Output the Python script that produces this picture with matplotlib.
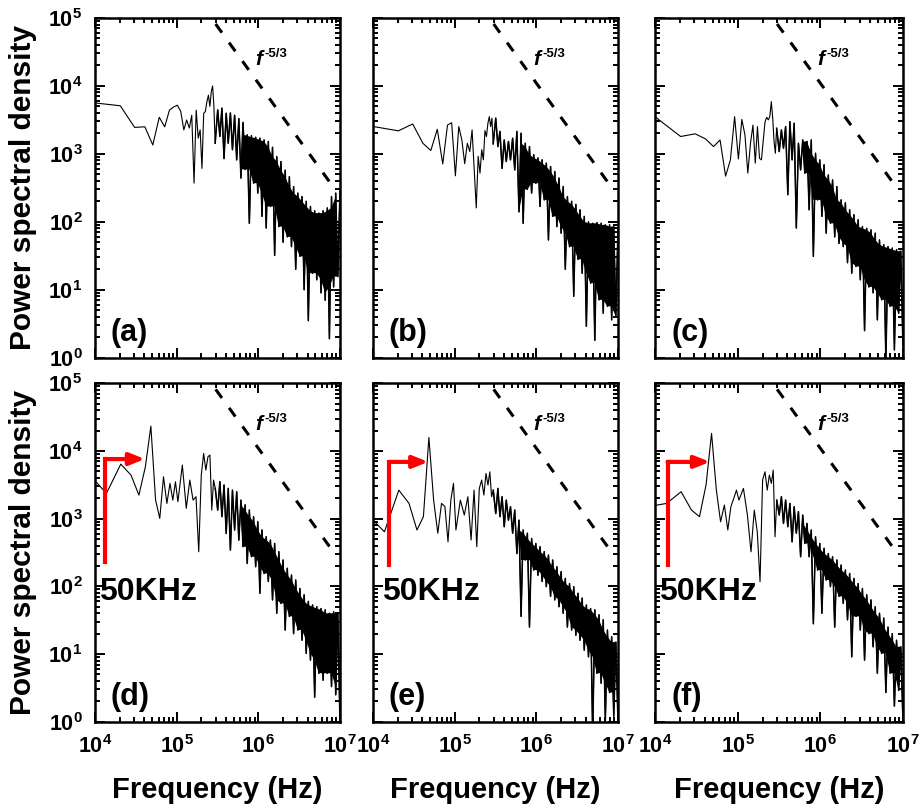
import matplotlib
matplotlib.use('Agg')
import matplotlib.pyplot as plt
import numpy as np
from matplotlib.ticker import LogLocator, FuncFormatter, NullFormatter

plt.rcParams['font.family'] = 'Liberation Sans'
plt.rcParams['font.weight'] = 'bold'
plt.rcParams['mathtext.fontset'] = 'custom'
plt.rcParams['mathtext.rm'] = 'Liberation Sans:bold'
plt.rcParams['mathtext.bf'] = 'Liberation Sans:bold'

# frequency samples (kHz): low part differs between rows, dense part is shared
freq_top_khz = [10.2, 20.4, 30.6, 40.8, 51.0, 61.2, 71.4, 81.6, 91.8, 102.0,
                112.2, 122.4, 132.6, 142.8, 153.0, 163.2, 173.4, 183.6, 193.8, 204.0,
                214.2, 224.4, 234.6, 244.8, 255.0, 265.2, 275.4, 285.6, 295.8]
freq_bottom_khz = [6.9, 13.8, 20.7, 27.6, 34.5, 41.4, 48.3, 55.2, 62.1, 69.0,
                   75.9, 82.8, 89.7, 96.6, 103.5, 117.3, 131.1, 144.9, 158.7, 172.5,
                   186.3, 200.1, 213.9, 227.7, 241.5, 255.3, 269.1, 282.9, 296.7]
freq_dense_khz = [318, 338, 358, 380, 404, 428, 455, 482, 512, 543,
                  577, 612, 649, 689, 731, 776, 823, 874, 927, 984,
                  1044, 1108, 1176, 1248, 1324, 1405, 1491, 1583, 1680, 1782,
                  1891, 2007, 2130, 2260, 2398, 2545, 2701, 2866, 3042, 3228,
                  3425, 3635, 3857, 4093, 4344, 4610, 4892, 5191, 5509, 5846,
                  6203, 6583, 6985, 7413, 7866, 8348, 8858, 9400, 9975]

# power spectral density (low part + dense part)
psd_a = [5600, 5100, 2450, 2500, 1350, 3450, 2500, 4400, 4900, 5200,
         4200, 2250, 3150, 2400, 3700, 370, 4400, 1700, 2250, 610,
         3950, 4200, 5850, 7300, 5000, 8200, 10000, 5000, 1430,
         4430, 1800, 4700, 850, 3950, 1430, 4000, 1150, 3700, 815,
         3300, 440, 2900, 590, 1900, 95, 1850, 370, 1750, 264,
         1700, 120, 1600, 81, 1520, 168, 1250, 32, 910, 85,
         770, 50, 575, 60, 460, 43, 330, 20, 264, 31,
         235, 10, 200, 3.5, 168, 17.5, 145, 14, 134, 9,
         145, 7, 160, 1.9, 235, 11, 264, 15.6, 280]
psd_b = [2520, 2180, 2750, 1430, 1120, 2300, 710, 2650, 2870, 475,
         2520, 1600, 715, 1430, 1080, 2250, 580, 160, 920, 520,
         1150, 815, 2200, 1800, 2820, 3530, 2520, 3350, 1400,
         3350, 1280, 2140, 610, 1600, 770, 1520, 815, 1700, 580,
         2140, 140, 2010, 95, 1430, 300, 1280, 264, 970, 370,
         870, 168, 815, 210, 730, 54, 650, 120, 550, 85,
         440, 68, 330, 20, 235, 43, 200, 8, 180, 28,
         150, 17.5, 120, 2.9, 100, 12.5, 95, 1.8, 97, 7.1,
         95, 4.5, 90, 5.7, 90, 3.6, 85, 4, 81]
psd_c = [3450, 1800, 1970, 1660, 1280, 1600, 470, 815, 3530, 840,
         3220, 1900, 520, 1430, 2650, 730, 2520, 860, 815, 1600,
         2970, 3450, 3160, 3530, 5870, 3350, 1520, 1020, 2380,
         1080, 2250, 1210, 2520, 250, 2970, 815, 2820, 81, 1430,
         580, 1600, 520, 1520, 150, 1600, 31, 1020, 210, 815,
         120, 690, 68, 490, 95, 414, 60, 330, 48, 210,
         43, 190, 25, 150, 17.5, 127, 22, 107, 14, 85,
         2.5, 80, 11, 76, 9, 68, 3.6, 54, 7.1, 46,
         0.9, 43, 5.7, 41, 1.3, 39, 4.5, 37, 1.5]
psd_d = [6000, 2360, 6400, 4400, 2230, 5850, 23300, 1880, 1010, 4160,
         1680, 3320, 1880, 3510, 1780, 6200, 1420, 3720, 1880, 2110,
         324, 4400, 9200, 5220, 8220, 8710, 1340, 3720, 2800,
         1340, 3520, 1070, 3140, 605, 2800, 344, 2640, 680, 2500,
         483, 1880, 385, 1600, 218, 1340, 274, 1070, 195, 900,
         79, 680, 155, 540, 118, 483, 63, 430, 40, 325,
         56, 245, 22.6, 185, 36, 147, 20, 124, 22.6, 93,
         16, 75, 10.2, 60, 8.1, 53, 2.3, 50, 5.2, 47,
         4.1, 45, 5.2, 40, 3.3, 42, 2.5, 40, 1.0]
psd_e = [1500, 640, 2640, 1680, 680, 1070, 15850, 1880, 610, 1680,
         1510, 455, 1880, 3320, 680, 1880, 1130, 2110, 483, 2640,
         385, 2800, 3720, 2230, 4660, 3140, 4920, 2110, 2640,
         1190, 2800, 1070, 2110, 760, 1880, 950, 1500, 610, 1340,
         305, 950, 36, 680, 245, 610, 25, 510, 174, 430,
         146, 385, 118, 325, 99, 290, 71, 245, 63, 195,
         50, 165, 40, 131, 25, 110, 22.6, 99, 19, 79,
         16, 67, 11.4, 53, 9.1, 47, 0.6, 45, 5.2, 38,
         3.7, 32, 1.05, 22.6, 2.7, 18, 1.2, 15, 1.0]
psd_f = [1450, 1680, 2500, 1340, 1070, 3140, 18200, 2640, 900, 1590,
         680, 1510, 2000, 2640, 1880, 2800, 1130, 324, 1340, 640,
         117, 3720, 4930, 2640, 4400, 3320, 5220, 540, 1880,
         1130, 2110, 850, 1880, 760, 1680, 455, 1500, 610, 1270,
         274, 1130, 430, 850, 274, 680, 28, 540, 174, 430,
         40, 365, 124, 305, 99, 274, 25, 245, 71, 206,
         56, 174, 32, 155, 9.1, 131, 36, 110, 22.6, 93,
         8.1, 75, 20, 63, 12.8, 50, 5.2, 40, 10.2, 34,
         2.7, 25, 5.2, 20, 1.7, 16, 2.9, 12.8, 1.05]

panel_labels = ['(a)', '(b)', '(c)', '(d)', '(e)', '(f)']

# f^-5/3 guide line end points (Hz, PSD)
ref_f = [3.0e5, 8.7e6]
ref_psd = [8.15e4, 298]

# red "50KHz" arrows in the bottom row: corner frequency, tip frequency, bottom, top
arrow_f0 = [1.33e4, 1.58e4, 1.42e4]
arrow_tip = [4.09e4, 4.75e4, 4.62e4]
arrow_low = [231, 206, 206]
arrow_high = [7600, 6900, 6900]
arrow_text_x = [0.016, 0.036, 0.017]

fig = plt.figure(figsize=(9.24, 8.09), dpi=100)

col_left = [0.1028, 0.4037, 0.7089]
col_width = [0.2652, 0.2652, 0.2684]
row_bottom = [0.5579, 0.1079]
row_height = [0.4199, 0.4183]

all_psd = [psd_a, psd_b, psd_c, psd_d, psd_e, psd_f]
n_low = len(freq_top_khz)
dec_fmt = FuncFormatter(lambda v, p: r'$\mathbf{10^{%d}}$' % round(np.log10(v)))


def band_polygon(f, p, f_start):
    # core of the zigzag above f_start; lone peaks and dips stay as thin spikes
    j = np.arange(1, len(p) - 1)
    pk = j[(p[j] >= p[j - 1]) & (p[j] >= p[j + 1]) & (f[j] >= f_start)]
    tr = j[(p[j] <= p[j - 1]) & (p[j] <= p[j + 1]) & (f[j] >= f_start)]
    hi, lo = p[pk], p[tr]
    top = np.minimum.reduce([hi, np.r_[hi[0], hi[:-1]], np.r_[hi[1:], hi[-1]]])
    bot = np.maximum.reduce([lo, np.r_[lo[0], lo[:-1]], np.r_[lo[1:], lo[-1]]])
    xs = np.r_[f[pk], f[tr][::-1]]
    ys = np.r_[top, bot[::-1]]
    return xs, ys


for i in range(6):
    row, col = divmod(i, 3)
    ax = fig.add_axes([col_left[col], row_bottom[row], col_width[col], row_height[row]])
    low = freq_top_khz if row == 0 else freq_bottom_khz
    freq = np.array(low + freq_dense_khz) * 1e3
    psd = np.array(all_psd[i], dtype=float)
    ax.plot(freq, psd, color='black', lw=0.8)
    ax.plot(freq[n_low - 1:], psd[n_low - 1:], color='black', lw=1.1)
    bx, by = band_polygon(freq, psd, 6e5)
    ax.fill(bx, by, color='black', lw=0)
    ax.plot(ref_f, ref_psd, color='black', lw=2.2, linestyle=(0, (3.5, 4)))

    ax.set_xscale('log')
    ax.set_yscale('log')
    ax.set_xlim(1e4, 1e7)
    ax.set_ylim(1, 1e5)

    for axis in (ax.xaxis, ax.yaxis):
        axis.set_major_locator(LogLocator(base=10, numticks=10))
        axis.set_minor_locator(LogLocator(base=10, subs=np.arange(2, 10), numticks=20))
        axis.set_minor_formatter(NullFormatter())
        axis.set_major_formatter(dec_fmt)
    ax.tick_params(which='both', direction='in', top=True, right=True, width=1.4,
                   labelsize=15.5)
    ax.tick_params(which='major', length=7)
    ax.tick_params(which='minor', length=3.5)
    ax.tick_params(axis='y', pad=9)
    ax.tick_params(axis='x', pad=10)
    for s in ax.spines.values():
        s.set_linewidth(1.8)

    if col != 0:
        ax.tick_params(axis='y', labelleft=False)
    else:
        ax.set_ylabel('Power spectral density', fontsize=21.5, fontweight='bold')
        ax.yaxis.set_label_coords(-0.235, 0.5)
    if row == 0:
        ax.tick_params(axis='x', labelbottom=False)
    else:
        ax.set_xlabel('Frequency (Hz)', fontsize=21, fontweight='bold')
        ax.xaxis.set_label_coords(0.5, -0.16)

    ax.text(0.065, 0.05, panel_labels[i], transform=ax.transAxes, fontsize=22,
            fontweight='bold', ha='left', va='baseline')
    ax.text(0.655, 0.862, 'f', transform=ax.transAxes, fontsize=15,
            fontweight='bold', fontstyle='italic', ha='left', va='baseline')
    ax.text(0.69, 0.886, '-5/3', transform=ax.transAxes, fontsize=9.5,
            fontweight='bold', ha='left', va='baseline')

    if row == 1:
        ax.plot([arrow_f0[col], arrow_f0[col]], [arrow_low[col], arrow_high[col]],
                color='red', lw=3, solid_capstyle='projecting')
        ax.annotate('', xy=(arrow_tip[col], arrow_high[col]),
                    xytext=(arrow_f0[col], arrow_high[col]),
                    arrowprops=dict(arrowstyle='-|>,head_length=0.75,head_width=0.3',
                                    color='red', lw=3, mutation_scale=12,
                                    shrinkA=0, shrinkB=0))
        ax.text(arrow_text_x[col], 0.359, '50KHz', transform=ax.transAxes,
                fontsize=23, fontweight='bold', ha='left', va='baseline')

fig.savefig('out.png', dpi=100)
